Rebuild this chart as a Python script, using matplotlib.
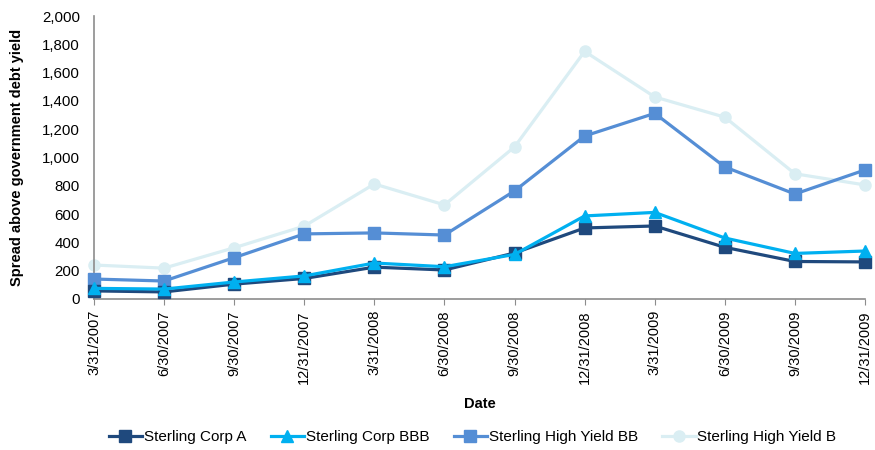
import matplotlib.pyplot as plt

plt.rcParams['font.family'] = ['Liberation Sans', 'DejaVu Sans']

dates = ["3/31/2007", "6/30/2007", "9/30/2007", "12/31/2007",
         "3/31/2008", "6/30/2008", "9/30/2008", "12/31/2008",
         "3/31/2009", "6/30/2009", "9/30/2009", "12/31/2009"]

corp_a = [57, 50, 105, 145, 225, 205, 325, 502, 516, 365, 265, 262]
corp_bbb = [75, 70, 120, 163, 254, 228, 315, 587, 612, 431, 322, 339]
hy_bb = [141, 127, 292, 460, 467, 452, 764, 1152, 1312, 933, 742, 912]
hy_b = [240, 218, 362, 515, 813, 665, 1075, 1750, 1428, 1285, 885, 806]

# name, values, colour, marker, zorder
series = [
    ("Sterling Corp A", corp_a, "#1F497D", "s", 4),
    ("Sterling Corp BBB", corp_bbb, "#00B0F0", "^", 5),
    ("Sterling High Yield BB", hy_bb, "#558ED5", "s", 3),
    ("Sterling High Yield B", hy_b, "#DAEEF3", "o", 2),
]

fig = plt.figure(figsize=(8.75, 4.5), dpi=100)
ax = fig.add_axes([0.1074, 0.3356, 0.8812, 0.6288])

x = list(range(len(dates)))
for name, vals, col, mk, z in series:
    ax.plot(x, vals, color=col, marker=mk, markersize=8, linewidth=2.3,
            label=name, zorder=z, clip_on=False)

ax.set_xlim(0, len(dates) - 1)
ax.set_ylim(0, 2000)
ax.set_yticks(range(0, 2001, 200))
ax.set_yticklabels([f"{v:,}" for v in range(0, 2001, 200)])
ax.set_xticks(x)
ax.set_xticklabels(dates, rotation=90)

for s in ["top", "right"]:
    ax.spines[s].set_visible(False)
for s in ["left", "bottom"]:
    ax.spines[s].set_color("#8C8C8C")
    ax.spines[s].set_linewidth(1.2)
ax.tick_params(axis="y", length=0, labelsize=10.8, pad=10)
ax.tick_params(axis="x", length=4, color="#8C8C8C", labelsize=10.5, pad=4)

ax.set_ylabel("Spread above government debt yield", fontsize=10.5,
              fontweight="bold", labelpad=13)
ax.set_xlabel("Date", fontsize=10.5, fontweight="bold", labelpad=10)

fig.legend(loc="center", bbox_to_anchor=(0.54, 0.028), ncol=4, frameon=False,
           fontsize=11, handlelength=2.2, columnspacing=1.6,
           handletextpad=0.1)

fig.savefig("out.png", dpi=100)
